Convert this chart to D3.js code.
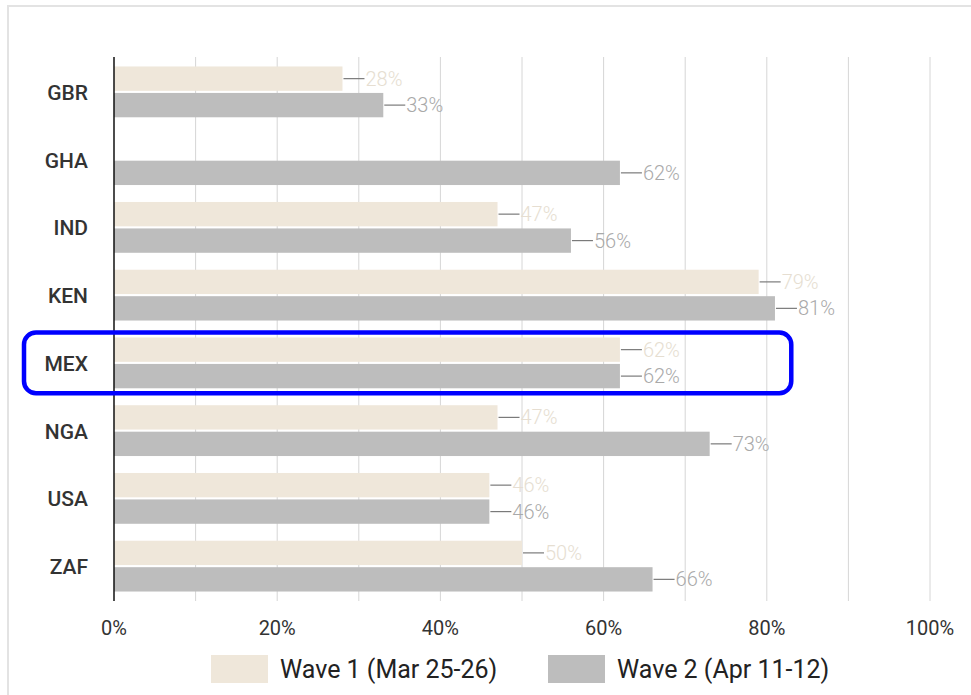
<!DOCTYPE html>
<html>
<head>
<meta charset="utf-8">
<script src="https://cdn.jsdelivr.net/npm/d3@7"></script>
<style>
  html, body { margin: 0; padding: 0; background: #fff; }
  svg { display: block; }
</style>
</head>
<body>
<svg id="chart" width="971" height="695"></svg>
<script>
const categories = ["GBR", "GHA", "IND", "KEN", "MEX", "NGA", "USA", "ZAF"];
const seriesNames = ["Wave 1 (Mar 25-26)", "Wave 2 (Apr 11-12)"];
const wave1 = [28, null, 47, 79, 62, 47, 46, 50];
const wave2 = [33, 62, 56, 81, 62, 73, 46, 66];
const tickValues = [0, 20, 40, 60, 80, 100];
const tickLabels = ["0%", "20%", "40%", "60%", "80%", "100%"];
const highlight = "MEX";

const colors = ["#efe7da", "#bdbdbd"];
const labelColors = ["#e6ded1", "#a9a9a9"];

const svg = d3.select("#chart");
const W = 971, H = 695;

// frame
svg.append("line").attr("x1", 7).attr("x2", W).attr("y1", 6).attr("y2", 6)
  .attr("stroke", "#e3e3e3").attr("stroke-width", 2);
svg.append("line").attr("x1", 8).attr("x2", 8).attr("y1", 6).attr("y2", H)
  .attr("stroke", "#e3e3e3").attr("stroke-width", 2);

const x = d3.scaleLinear().domain([0, 100]).range([114, 930]);
const y = d3.scaleBand().domain(categories).range([58, 600]).paddingInner(0.25).paddingOuter(0.125);
const ySub = d3.scaleBand().domain([0, 1]).range([0, y.bandwidth()]).paddingInner(0.08);

const g = svg.append("g");

// gridlines every 10%
g.selectAll("line.grid").data(d3.range(10, 101, 10)).join("line")
  .attr("class", "grid")
  .attr("x1", d => x(d)).attr("x2", d => x(d))
  .attr("y1", 57).attr("y2", 601)
  .attr("stroke", "#d6d6d6").attr("stroke-width", 1);

// x tick labels
g.selectAll("text.tick").data(tickValues).join("text")
  .attr("class", "tick")
  .attr("x", d => x(d)).attr("y", 635)
  .attr("text-anchor", "middle")
  .attr("font-family", "Roboto, sans-serif")
  .attr("font-size", 20)
  .attr("font-weight", 400)
  .attr("fill", "#333")
  .text((d, i) => tickLabels[i]);

// category labels
g.selectAll("text.cat").data(categories).join("text")
  .attr("class", "cat")
  .attr("x", 88)
  .attr("y", d => y(d) + y.bandwidth() / 2 + 8)
  .attr("text-anchor", "end")
  .attr("font-family", "Roboto, sans-serif")
  .attr("font-size", 21)
  .attr("font-weight", 500)
  .attr("fill", "#333")
  .text(d => d);

const rows = [];
categories.forEach((c, i) => {
  [wave1[i], wave2[i]].forEach((v, s) => {
    if (v !== null) rows.push({ cat: c, s, v });
  });
});

// bars
g.selectAll("rect.bar").data(rows).join("rect")
  .attr("class", "bar")
  .attr("x", x(0))
  .attr("y", d => y(d.cat) + ySub(d.s))
  .attr("width", d => x(d.v) - x(0))
  .attr("height", ySub.bandwidth())
  .attr("fill", d => colors[d.s]);

// leader lines
g.selectAll("line.lead").data(rows).join("line")
  .attr("class", "lead")
  .attr("x1", d => x(d.v) + 1).attr("x2", d => x(d.v) + 22)
  .attr("y1", d => y(d.cat) + ySub(d.s) + ySub.bandwidth() / 2)
  .attr("y2", d => y(d.cat) + ySub(d.s) + ySub.bandwidth() / 2)
  .attr("stroke", "#7a7a7a").attr("stroke-width", 1.2);

// value labels
g.selectAll("text.val").data(rows).join("text")
  .attr("class", "val")
  .attr("x", d => x(d.v) + 23)
  .attr("y", d => y(d.cat) + ySub(d.s) + ySub.bandwidth() / 2 + 7)
  .attr("font-family", "Roboto, sans-serif")
  .attr("font-size", 20)
  .attr("font-weight", 300)
  .attr("fill", d => labelColors[d.s])
  .text(d => d.v + "%");

// zero axis
g.append("line")
  .attr("x1", x(0)).attr("x2", x(0)).attr("y1", 57).attr("y2", 601)
  .attr("stroke", "#111").attr("stroke-width", 1.5);

// highlight box
g.append("rect")
  .attr("x", 24)
  .attr("y", y(highlight) - 5)
  .attr("width", x(83) - 24)
  .attr("height", y.bandwidth() + 10)
  .attr("rx", 12)
  .attr("fill", "none")
  .attr("stroke", "#0000ff")
  .attr("stroke-width", 4.5);

// legend
const legX = [211, 548];
seriesNames.forEach((name, i) => {
  svg.append("rect").attr("x", legX[i]).attr("y", 655).attr("width", 57).attr("height", 28)
    .attr("fill", colors[i]);
  svg.append("text").attr("x", legX[i] + 69).attr("y", 678)
    .attr("font-family", "Roboto, sans-serif")
    .attr("font-size", 25)
    .attr("fill", "#222")
    .text(name);
});
</script>
</body>
</html>
